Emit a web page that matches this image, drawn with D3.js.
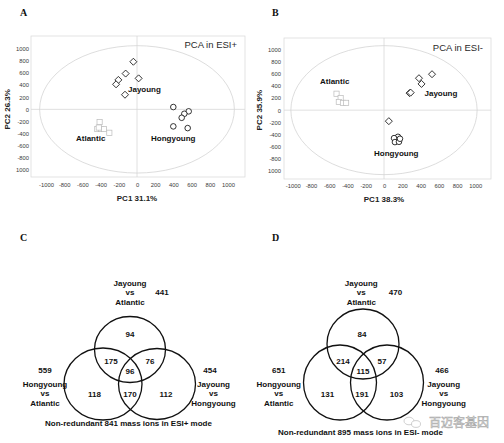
<!DOCTYPE html>
<html><head><meta charset="utf-8">
<script src="https://cdn.jsdelivr.net/npm/d3@7"></script>
<style>
html,body{margin:0;padding:0;background:#fff;}
svg{display:block;font-family:"Liberation Sans",Arial,sans-serif;}
</style></head>
<body>
<script>
// ---------- DATA ----------
const axisTicks = [-1000,-800,-600,-400,-200,0,200,400,600,800,1000];
const xTickLabels = ["-1000","-800","-600","-400","-200","0","200","400","600","800","1000"];
const yTickLabels = ["1000","-800","-600","-400","-200","0","200","400","600","800","1000"];

// Panel A (ESI+)
const aJayoung   = [[-40,785],[-125,590],[-205,485],[-230,413],[18,511],[-132,241]];
const aHongyoung = [[399,38],[568,-33],[520,-73],[491,-139],[399,-281],[557,-309]];
const aAtlantic  = [[-411,-210],[-436,-325],[-396,-325],[-363,-325],[-304,-386],[-420,-300]];
// Panel B (ESI-)
const bJayoung   = [[526,591],[383,525],[411,431],[280,280],[292,288],[53,-181]];
const bHongyoung = [[153,-438],[131,-493],[110,-460],[120,-525],[164,-520],[175,-470]];
const bAtlantic  = [[-520,270],[-475,200],[-495,135],[-450,120],[-415,120]];

const pcaTitles = ["PCA in ESI+","PCA in ESI-"];
const pc1Labels = ["PC1 31.1%","PC1 38.3%"];
const pc2Labels = ["PC2 26.3%","PC2 35.9%"];

// Venn data
const vennSetNames = [["Jayoung","vs","Atlantic"],["Hongyoung","vs","Atlantic"],["Jayoung","vs","Hongyoung"]];
const vennC_totals = [441,559,454];
const vennC_regions = {top:94, topLeft:175, topRight:76, center:96, left:118, bottom:170, right:112};
const vennD_totals = [470,651,466];
const vennD_regions = {top:84, topLeft:214, topRight:57, center:115, left:131, bottom:191, right:103};
const vennCaptions = ["Non-redundant 841 mass ions in ESI+ mode","Non-redundant 895 mass ions in ESI- mode"];

// ---------- DRAW ----------
const W=504,H=443;
const svg=d3.select("body").append("svg").attr("width",W).attr("height",H);

function panelLetter(t,x,y){
  svg.append("text").attr("x",x).attr("y",y).text(t)
    .attr("font-family","'Liberation Serif','Times New Roman',serif").attr("font-weight","bold")
    .attr("font-size",10).attr("fill","#111");
}

function pcaPanel(cfg){
  const g=svg.append("g");
  const x=d3.scaleLinear().domain([-1000,1000]).range(cfg.xr);
  const y=d3.scaleLinear().domain([-1000,1000]).range(cfg.yr);
  g.append("rect").attr("x",cfg.frame[0]).attr("y",cfg.frame[1])
    .attr("width",cfg.frame[2]-cfg.frame[0]).attr("height",cfg.frame[3]-cfg.frame[1])
    .attr("fill","none").attr("stroke","#dcdcdc").attr("stroke-width",0.8);
  g.append("line").attr("x1",x(0)).attr("x2",x(0)).attr("y1",cfg.frame[1]).attr("y2",cfg.frame[3])
    .attr("stroke","#d8d8d8").attr("stroke-width",0.8);
  g.append("line").attr("y1",y(0)).attr("y2",y(0)).attr("x1",cfg.frame[0]).attr("x2",cfg.frame[2])
    .attr("stroke","#d8d8d8").attr("stroke-width",0.8);
  g.append("ellipse").attr("cx",x(0)).attr("cy",y(0))
    .attr("rx",x(cfg.ell[0])-x(0)).attr("ry",y(0)-y(cfg.ell[1]))
    .attr("fill","none").attr("stroke","#d4d4d4").attr("stroke-width",0.8);
  const xa=d3.axisBottom(x).tickValues(axisTicks).tickSize(0).tickPadding(0)
    .tickFormat((d,i)=>xTickLabels[i]);
  const xg=g.append("g").attr("transform",`translate(0,${cfg.xAxisY})`).call(xa);
  xg.select(".domain").remove();
  xg.selectAll("text").attr("font-size",5.8).attr("fill","#3a3a3a").attr("dy","0.32em").attr("y",0)
    .attr("font-family","'Liberation Sans',Arial,sans-serif");
  const ya=d3.axisLeft(y).tickValues(axisTicks).tickSize(0).tickPadding(0)
    .tickFormat((d,i)=>yTickLabels[i]);
  const yg=g.append("g").attr("transform",`translate(${cfg.yAxisX},0)`).call(ya);
  yg.select(".domain").remove();
  yg.selectAll("text").attr("font-size",5.8).attr("fill","#3a3a3a")
    .attr("font-family","'Liberation Sans',Arial,sans-serif");
  g.append("text").attr("x",(cfg.xr[0]+cfg.xr[1])/2).attr("y",cfg.xTitleY).attr("text-anchor","middle")
    .attr("font-weight","bold").attr("font-size",8).attr("fill","#222").text(cfg.pc1);
  g.append("text").attr("transform",`translate(${cfg.yTitleX},${y(0)}) rotate(-90)`).attr("text-anchor","middle")
    .attr("font-weight","bold").attr("font-size",8).attr("fill","#222").text(cfg.pc2);
  g.append("text").attr("x",cfg.frame[2]-8).attr("y",cfg.titleY).attr("text-anchor","end")
    .attr("font-size",9.5).attr("fill","#2a2a2a").text(cfg.title);
  g.selectAll(".sq").data(cfg.atl).join("rect")
    .attr("x",d=>x(d[0])-2.6).attr("y",d=>y(d[1])-2.6).attr("width",5.2).attr("height",5.2)
    .attr("fill","#fff").attr("stroke","#bbb").attr("stroke-width",0.7);
  g.selectAll(".ci").data(cfg.hong).join("circle")
    .attr("cx",d=>x(d[0])).attr("cy",d=>y(d[1])).attr("r",2.8)
    .attr("fill","#fff").attr("stroke","#111").attr("stroke-width",0.85);
  g.selectAll(".di").data(cfg.jay).join("path")
    .attr("d",d=>{const cx=x(d[0]),cy=y(d[1]),s=3.5;return `M${cx},${cy-s}L${cx+s},${cy}L${cx},${cy+s}L${cx-s},${cy}Z`;})
    .attr("fill","#fff").attr("stroke","#111").attr("stroke-width",0.85);
  cfg.labels.forEach(l=>{
    g.append("text").attr("x",l[1]).attr("y",l[2]).text(l[0]).attr("font-weight","bold")
      .attr("font-size",8).attr("fill","#111");
  });
}

pcaPanel({xr:[46,228],yr:[170,48.7],frame:[31,36,245,177],ell:[1070,1050],
  xAxisY:185,yAxisX:29,xTitleY:201,yTitleX:10,titleY:48,
  pc1:pc1Labels[0],pc2:pc2Labels[0],title:pcaTitles[0],
  jay:aJayoung,hong:aHongyoung,atl:aAtlantic,
  labels:[["Jayoung",128,91.5],["Atlantic",76,141],["Hongyoung",151,141]]});
pcaPanel({xr:[292.7,475.3],yr:[171,49.3],frame:[284,38,491,179],ell:[1020,1060],
  xAxisY:186,yAxisX:281,xTitleY:202,yTitleX:262,titleY:51,
  pc1:pc1Labels[1],pc2:pc2Labels[1],title:pcaTitles[1],
  jay:bJayoung,hong:bHongyoung,atl:bAtlantic,
  labels:[["Atlantic",320,83.5],["Jayoung",424.5,95.5],["Hongyoung",374,155.5]]});

panelLetter("A",20,16);
panelLetter("B",272,16);
panelLetter("C",20,241);
panelLetter("D",272,241);

function venn(cfg){
  const g=svg.append("g");
  cfg.circles.forEach(c=>{
    g.append("ellipse").attr("cx",c[0]).attr("cy",c[1]).attr("rx",c[2]).attr("ry",c[3])
      .attr("fill","none").attr("stroke","#111").attr("stroke-width",1.3);
  });
  const t=(s,x,y)=>g.append("text").attr("x",x).attr("y",y).attr("dy","0.35em").attr("text-anchor","middle")
    .attr("font-weight","bold").attr("font-size",8).attr("fill","#111").text(s);
  const r=cfg.regions, p=cfg.pos;
  t(r.top,p.top[0],p.top[1]); t(r.topLeft,p.topLeft[0],p.topLeft[1]); t(r.topRight,p.topRight[0],p.topRight[1]);
  t(r.center,p.center[0],p.center[1]); t(r.left,p.left[0],p.left[1]); t(r.bottom,p.bottom[0],p.bottom[1]);
  t(r.right,p.right[0],p.right[1]);
  cfg.setPos.forEach((sp,i)=>{
    vennSetNames[i].forEach((s,j)=>t(s,sp[0],sp[1]+j*9.5));
    t(cfg.totals[i],sp[2],sp[3]);
  });
  t(cfg.caption,cfg.capPos[0],cfg.capPos[1]);
}

venn({circles:[[130,349.5,35.5,33],[103,384,39,36],[157,384,38.5,35.5]],
  regions:vennC_regions,totals:vennC_totals,caption:vennCaptions[0],
  pos:{top:[130,334.5],topLeft:[111,361.5],topRight:[150,361.5],center:[130,371],left:[94.5,394],bottom:[130,394],right:[166,394]},
  setPos:[[130,282.7,162,292],[45,384,45,370.3],[213.5,384,210,370.3]],
  capPos:[128.5,423]});

venn({circles:[[363,344,36,35],[340,382.5,36.5,37.5],[387,382.5,36.5,37.5]],
  regions:vennD_regions,totals:vennD_totals,caption:vennCaptions[1],
  pos:{top:[362,334],topLeft:[343,361.5],topRight:[382,361.5],center:[363,371],left:[327.5,394],bottom:[362,394],right:[396.5,394]},
  setPos:[[361.3,282.7,395.5,292],[278.7,384,278.7,370.3],[443.7,384,442,370.3]],
  capPos:[360.5,432]});

// watermark
const wm=svg.append("g");
wm.append("ellipse").attr("cx",409).attr("cy",421).attr("rx",5).attr("ry",3.8).attr("fill","#fff").attr("stroke","#bbb").attr("stroke-width",0.7);
wm.append("ellipse").attr("cx",416).attr("cy",424).attr("rx",4.5).attr("ry",3.4).attr("fill","#fff").attr("stroke","#bbb").attr("stroke-width",0.7);
wm.append("text").attr("x",429).attr("y",426.5).text("百迈客基因")
  .attr("font-family","'Noto Sans CJK SC',sans-serif").attr("font-size",12)
  .attr("fill","#fff").attr("stroke","#a8a8a8").attr("stroke-width",0.6);
</script>
</body></html>
